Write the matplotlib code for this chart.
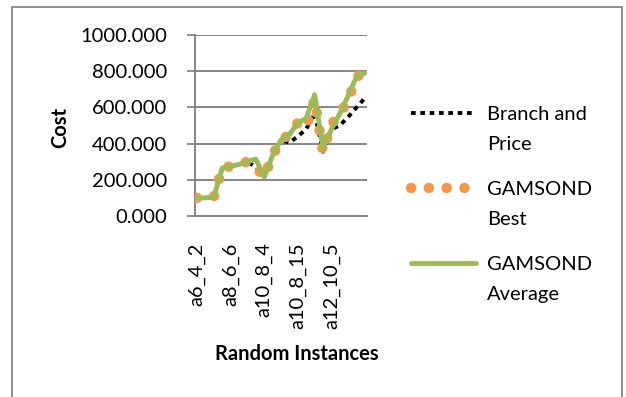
import matplotlib as mpl
mpl.use('Agg')
import matplotlib.pyplot as plt
from matplotlib.lines import Line2D
from matplotlib.patches import Rectangle
import numpy as np

plt.rcParams['font.family'] = ['Lato', 'DejaVu Sans']

# cost per random instance (21 instances, every 4th one labelled)
avg_cost = [100, 100, 105, 265, 275, 285, 300, 315, 215, 335, 420,
            450, 515, 540, 670, 375, 480, 565, 665, 770, 790]
best_cost = [100, 100, 105, 265, 275, 285, 300, 270, 215, 335, 420,
             450, 515, 490, 645, 355, 505, 565, 640, 770, 790]
bp_cost = [100, 100, 105, 265, 275, 285, 300, 270, 215, 335, 420,
           405, 440, 480, 570, 355, 480, 500, 547, 600, 652]
label_idx = [0, 4, 8, 12, 16]
tick_labels = ['a6_4_2', 'a8_6_6', 'a10_8_4', 'a10_8_15', 'a12_10_5']
yticks = [0, 200, 400, 600, 800, 1000]

W, H = 626, 397
fs = 14.5
fig = plt.figure(figsize=(W/100., H/100.), dpi=100)
ax = fig.add_axes([195./W, 1-216./H, 172./W, 181./H])

grey = '#868686'
bp_style = dict(color='black', lw=2.8, dashes=(1.2, 1.2))
best_style = dict(color='#F79646', lw=7.5, dashes=(0.01, 1.7),
                  dash_capstyle='round')
avg_style = dict(color='#9BBB59', lw=3.5, solid_capstyle='round')

x = np.arange(len(avg_cost))
ax.plot(x, bp_cost, zorder=3, **bp_style)
ax.plot(x, best_cost, zorder=4, **best_style)
ax.plot(x, avg_cost, solid_joinstyle='round', zorder=5, **avg_style)

ax.set_xlim(-0.24, 20.24)
ax.set_ylim(0, 1000)
ax.set_yticks(yticks)
ax.set_yticklabels(['%.3f' % v for v in yticks], fontsize=fs)
ax.set_xticks(label_idx)
ax.set_xticklabels(tick_labels, rotation=90, fontsize=fs)
ax.tick_params(axis='x', length=0, pad=19)
ax.tick_params(axis='y', length=6, width=1.3, color=grey, pad=14)
ax.grid(axis='y', color=grey, lw=1.4)
ax.set_axisbelow(True)
for s in ['top', 'right']:
    ax.spines[s].set_visible(False)
for s in ['left', 'bottom']:
    ax.spines[s].set_color(grey)
    ax.spines[s].set_linewidth(1.4)

fig.text(60./W, 1-127./H, 'Cost', rotation=90, fontsize=fs,
         fontweight='bold', ha='center', va='center')
fig.text(297./W, 1-354./H, 'Random Instances', fontsize=fs,
         fontweight='bold', ha='center', va='center')

# legend drawn by hand so the sample sits on the first text line
entries = [('Branch and\nPrice', bp_style),
           ('GAMSOND\nBest', best_style),
           ('GAMSOND\nAverage', avg_style)]
for k, (lab, style) in enumerate(entries):
    yy = 113 + 75*k
    fig.add_artist(Line2D([411./W, 476./W], [1-yy/float(H)]*2,
                          transform=fig.transFigure, **style))
    fig.text(487./W, 1-(yy-7)/float(H), lab, fontsize=fs, ha='left',
             va='top', linespacing=1.95)

fig.add_artist(Rectangle((12./W, -0.05), 610./W, 1.05-7./H,
                         transform=fig.transFigure, fill=False,
                         edgecolor=grey, lw=1.3))

fig.savefig('out.png', dpi=100)
